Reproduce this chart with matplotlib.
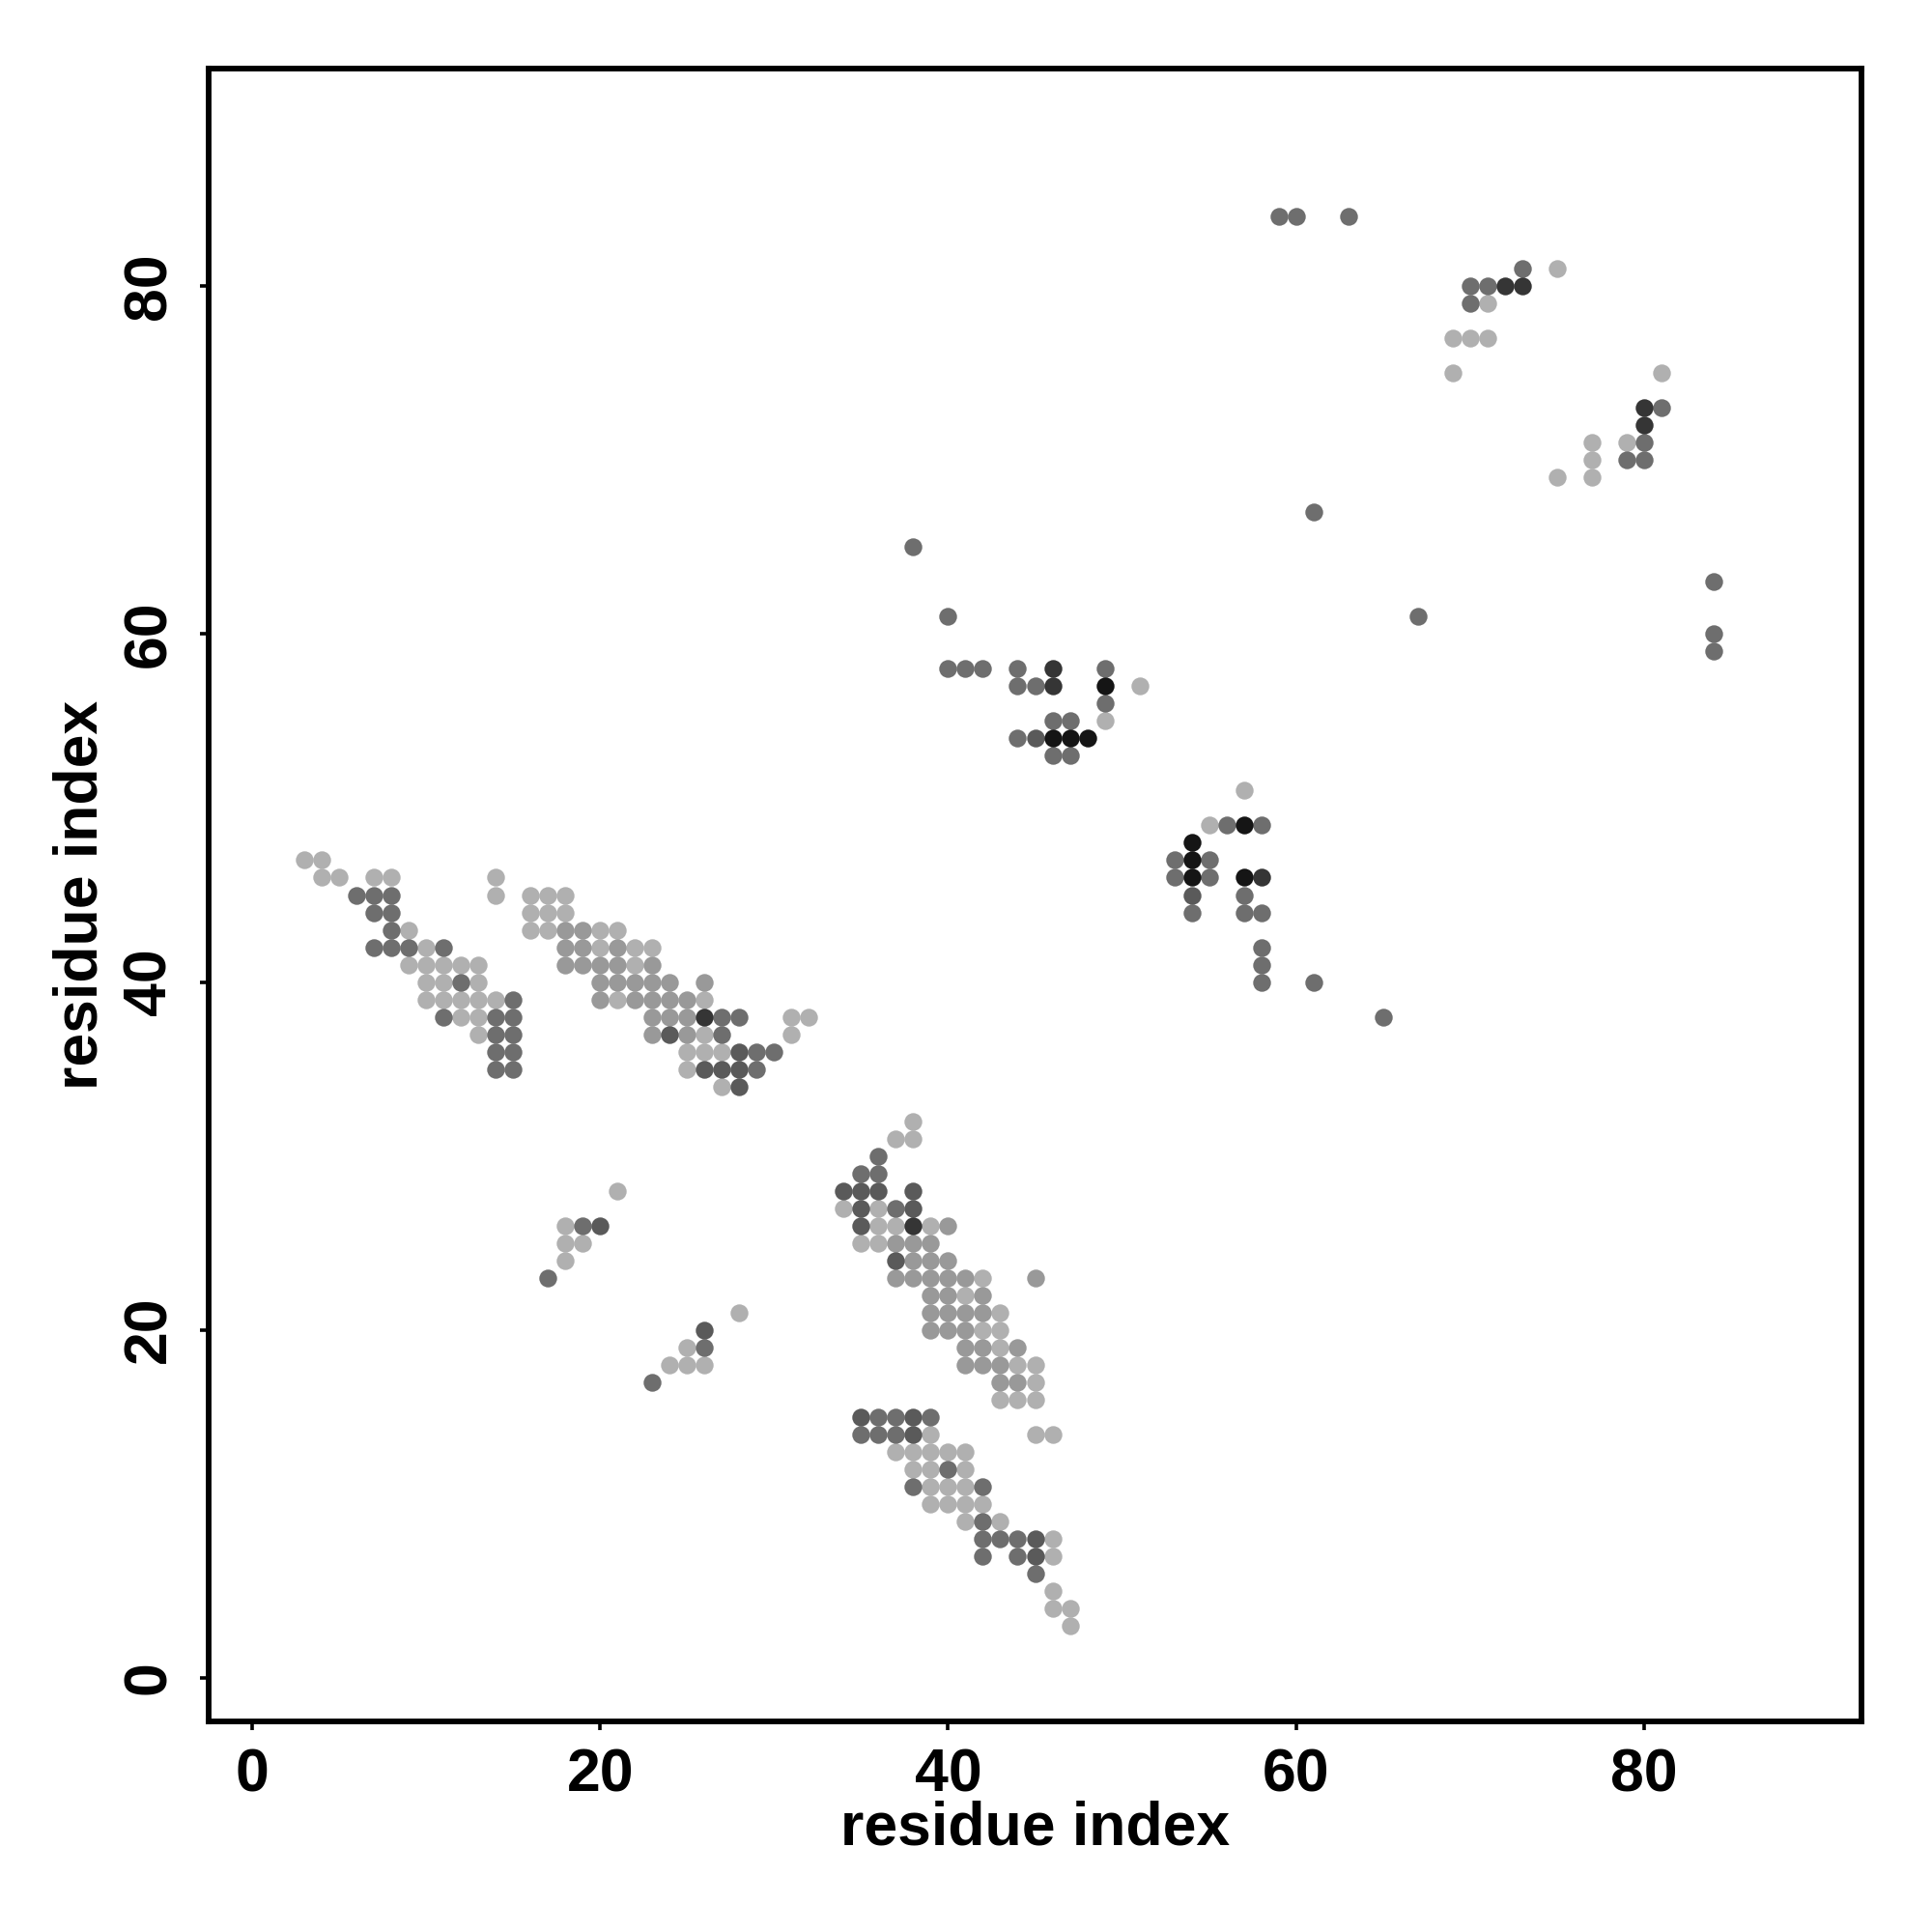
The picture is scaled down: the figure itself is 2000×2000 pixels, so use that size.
import matplotlib
matplotlib.use("Agg")
import matplotlib.pyplot as plt

# contact points (residue i, residue j), grouped by grey level
light = [(3, 47), (4, 47), (4, 46), (5, 46), (7, 46), (8, 46), (14, 46),
         (14, 45), (16, 45), (17, 45), (18, 45), (16, 44), (17, 44), (18, 44),
         (9, 43), (16, 43), (17, 43), (20, 43), (21, 43), (10, 42), (20, 42),
         (22, 42), (23, 42), (9, 41), (10, 41), (11, 41), (12, 41), (13, 41),
         (22, 41), (10, 40), (11, 40), (13, 40), (10, 39), (11, 39), (12, 39),
         (13, 39), (14, 39), (21, 39), (26, 39), (12, 38), (13, 38), (31, 38),
         (32, 38), (13, 37), (26, 37), (31, 37), (25, 36), (26, 36), (27, 36),
         (25, 35), (27, 34),
         (38, 32), (37, 31), (38, 31), (34, 27), (36, 27), (36, 26), (37, 26),
         (39, 26), (35, 25), (36, 25), (42, 23), (41, 22), (43, 21), (42, 20),
         (43, 20), (43, 19), (44, 18), (45, 18), (45, 17), (43, 16), (44, 16),
         (45, 16), (39, 14), (45, 14), (46, 14), (37, 13), (38, 13), (39, 13),
         (40, 13), (41, 13), (38, 12), (39, 12), (41, 12), (39, 11), (40, 11),
         (41, 11), (39, 10), (40, 10), (41, 10), (42, 10), (41, 9), (43, 9),
         (46, 8), (46, 7), (46, 5), (46, 4), (47, 4), (47, 3),
         (21, 28), (18, 26), (18, 25), (19, 25), (18, 24), (28, 21), (25, 19),
         (24, 18), (25, 18), (26, 18),
         (51, 57), (49, 55), (57, 51), (55, 49),
         (75, 81), (71, 79), (69, 77), (70, 77), (71, 77), (69, 75), (81, 75),
         (77, 71), (79, 71), (77, 70), (75, 69), (77, 69)]

medium = [(18, 43), (19, 43), (18, 42), (19, 42), (21, 42), (18, 41), (19, 41),
          (20, 41), (21, 41), (23, 41), (20, 40), (21, 40), (22, 40), (23, 40),
          (24, 40), (26, 40), (20, 39), (22, 39), (23, 39), (24, 39), (25, 39),
          (23, 38), (24, 38), (25, 38), (23, 37), (25, 37),
          (40, 26), (37, 25), (38, 25), (39, 25), (38, 24), (39, 24), (40, 24),
          (37, 23), (38, 23), (39, 23), (40, 23), (41, 23), (45, 23), (39, 22),
          (40, 22), (42, 22), (39, 21), (40, 21), (41, 21), (42, 21), (39, 20),
          (40, 20), (41, 20), (41, 19), (42, 19), (44, 19), (41, 18), (42, 18),
          (43, 18), (43, 17), (44, 17)]

dark = [(6, 45), (7, 45), (8, 45), (7, 44), (8, 44), (8, 43), (7, 42), (8, 42),
        (9, 42), (11, 42), (12, 40), (15, 39), (11, 38), (14, 38), (15, 38),
        (14, 37), (15, 37), (14, 36), (15, 36), (14, 35), (15, 35), (27, 38),
        (28, 38), (27, 37), (29, 36), (30, 36), (29, 35),
        (36, 30), (35, 29), (36, 29), (37, 27), (36, 15), (37, 15), (39, 15),
        (35, 14), (36, 14), (37, 14), (40, 12), (38, 11), (42, 11), (42, 9),
        (42, 8), (43, 8), (44, 8), (42, 7), (44, 7), (45, 6),
        (19, 26), (17, 23), (26, 19), (23, 17),
        (38, 65), (40, 61), (40, 58), (41, 58), (42, 58), (44, 58), (49, 58),
        (44, 57), (45, 57), (49, 56), (46, 55), (47, 55), (44, 54), (46, 53),
        (47, 53),
        (56, 49), (58, 49), (53, 47), (55, 47), (53, 46), (55, 46), (57, 45),
        (54, 44), (57, 44), (58, 44), (58, 42), (58, 41), (58, 40), (61, 40),
        (65, 38),
        (59, 84), (60, 84), (63, 84), (73, 81), (70, 80), (71, 80), (70, 79),
        (81, 73), (80, 71), (79, 70), (80, 70), (61, 67), (67, 61), (84, 63),
        (84, 60), (84, 59)]

darker = [(24, 37), (28, 36), (26, 35), (27, 35), (28, 35), (28, 34),
          (34, 28), (35, 28), (36, 28), (38, 28), (35, 27), (38, 27), (35, 26),
          (37, 24), (35, 15), (38, 15), (38, 14), (45, 8), (45, 7),
          (20, 26), (26, 20), (45, 54), (54, 45)]

very_dark = [(26, 38), (38, 26), (46, 58), (46, 57), (58, 46),
             (72, 80), (73, 80), (80, 73), (80, 72)]

black = [(49, 57), (46, 54), (47, 54), (48, 54), (57, 49), (54, 48), (54, 47),
         (54, 46), (57, 46)]

groups = [(light, "#b0b0b0"), (medium, "#999999"), (dark, "#6e6e6e"),
          (darker, "#5a5a5a"), (very_dark, "#353535"), (black, "#151515")]

ticks = [0, 20, 40, 60, 80]

font = ["Liberation Sans", "DejaVu Sans"]

fig = plt.figure(figsize=(10, 10), dpi=200)
ax = fig.add_axes([0.108, 0.109, 0.8555, 0.8555])

for pts, col in groups:
    xs = [p[0] for p in pts]
    ys = [p[1] for p in pts]
    ax.scatter(xs, ys, s=44, c=col, linewidths=0, zorder=2)

ax.set_xlim(-2.52, 92.52)
ax.set_ylim(-2.52, 92.52)
ax.set_xticks(ticks)
ax.set_yticks(ticks)
ax.set_xticklabels([str(t) for t in ticks], family=font, fontweight="bold", fontsize=22.5)
ax.set_yticklabels([str(t) for t in ticks], family=font, fontweight="bold", fontsize=22.5,
                   rotation=90, va="center")
ax.tick_params(axis="both", direction="out", length=3.4, width=1.3, color="black")
ax.tick_params(axis="x", pad=6)
ax.tick_params(axis="y", pad=8)
for sp in ax.spines.values():
    sp.set_linewidth(2.1)
    sp.set_color("black")

fig.text(0.5357, 0.0455, "residue index", family=font, fontweight="bold",
         fontsize=22.5, ha="center", va="baseline")
fig.text(0.0505, 0.537, "residue index", family=font, fontweight="bold",
         fontsize=22.5, ha="center", va="baseline", rotation=90,
         rotation_mode="anchor")

fig.savefig("out.png", dpi=200, facecolor="white")
